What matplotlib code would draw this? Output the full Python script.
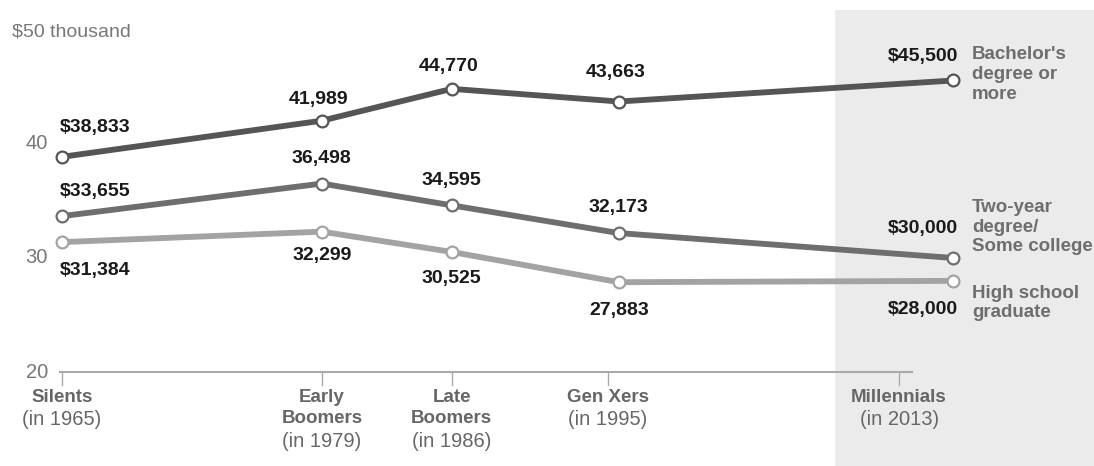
"""
    Median annual earnings of young adults by generation and education,
    redrawn as a line chart with direct labels.
"""

import matplotlib.pyplot as plt
from matplotlib.patches import Rectangle

plt.rcParams['font.family'] = ['Liberation Sans', 'DejaVu Sans']

# data
generations = ["Silents", "Early\nBoomers", "Late\nBoomers", "Gen Xers", "Millennials"]
years = [1965, 1979, 1986, 1995, 2013]
year_labels = ["(in 1965)", "(in 1979)", "(in 1986)", "(in 1995)", "(in 2013)"]
bachelor = [38833, 41989, 44770, 43663, 45500]
two_year = [33655, 36498, 34595, 32173, 30000]
high_school = [31384, 32299, 30525, 27883, 28000]
series_names = ["Bachelor's\ndegree or\nmore", "Two-year\ndegree/\nSome college", "High school\ngraduate"]
y_ticks = [20, 30, 40]

# layout (pixel offsets of value labels from their markers)
tick_pos = [1965, 1979, 1986, 1994.4, 2010.1]
colors = ["#555555", "#6e6e6e", "#a3a3a3"]
label_offsets = [
    [(-2, 29, 'left'), (-3, 21, 'center'), (-3, 22, 'center'), (-3, 29, 'center'), (5, 24, 'right')],
    [(-2, 25, 'left'), (0, 25, 'center'), (0, 25, 'center'), (0, 26, 'center'), (5, 29, 'right')],
    [(-2, -28, 'left'), (0, -24, 'center'), (0, -27, 'center'), (0, -28, 'center'), (5, -29, 'right')],
]
name_offsets = [34, 59, -4]

PX = 0.72  # points per pixel at dpi 100


def draw():
    fig = plt.figure(figsize=(10.94, 4.66), dpi=100)
    ax = fig.add_axes([0, 0, 1, 1])
    ax.set_xlim(1961.66, 2020.6)
    ax.set_ylim(11.83, 52.53)
    ax.axis('off')

    # shaded millennials panel
    ax.add_patch(Rectangle((2006.65, 11.83), 20, 51.66 - 11.83,
                           facecolor="#ebebeb", edgecolor="none", zorder=0))

    # bottom axis line and ticks
    ax.plot([1964.9, 2010.8], [20, 20], color="#aaaaaa", lw=1.5, zorder=1)
    for t in tick_pos:
        ax.plot([t, t], [20, 18.9], color="#aaaaaa", lw=1, zorder=1)

    for i, gen in enumerate(generations):
        ax.annotate(gen, (tick_pos[i], 20), xytext=(0, -17 * PX),
                    textcoords='offset points', ha='center', va='top',
                    fontsize=13.5, fontweight='bold', color="#666666",
                    linespacing=1.3)
        n = gen.count("\n") + 1
        ax.annotate(year_labels[i], (tick_pos[i], 20),
                    xytext=(0, (-16 - 22 * n) * PX),
                    textcoords='offset points', ha='center', va='top',
                    fontsize=14.5, color="#666666")

    # y labels
    for v in y_ticks:
        ax.text(1964.25, v, str(v), ha='right', va='center',
                fontsize=14.5, color="#777777")
    ax.text(1962.3, 49.7, "$50 thousand", ha='left', va='center',
            fontsize=14, color="#777777")

    # lines
    all_series = [bachelor, two_year, high_school]
    for s, vals in enumerate(all_series):
        k = [v / 1000 for v in vals]
        ax.plot(years, k, color=colors[s], lw=4.2, zorder=3,
                marker='o', markersize=8.5, markerfacecolor='white',
                markeredgecolor=colors[s], markeredgewidth=1.6)
        for i, v in enumerate(vals):
            dx, dy, ha = label_offsets[s][i]
            txt = "{:,}".format(v)
            if i == 0 or i == len(vals) - 1:
                txt = "$" + txt
            ax.annotate(txt, (years[i], k[i]), xytext=(dx * PX, dy * PX),
                        textcoords='offset points', ha=ha, va='center',
                        fontsize=14, fontweight='bold', color="#1a1a1a",
                        zorder=4)
        ax.annotate(series_names[s], (years[-1], k[-1]),
                    xytext=(19 * PX, name_offsets[s] * PX),
                    textcoords='offset points', ha='left', va='top',
                    fontsize=13.5, fontweight='bold', color="#6e6e6e",
                    linespacing=1.2, annotation_clip=False)

    plt.savefig("out.png", dpi=100)
    plt.clf()


def main():
    draw()


if __name__ == "__main__":
    main()
